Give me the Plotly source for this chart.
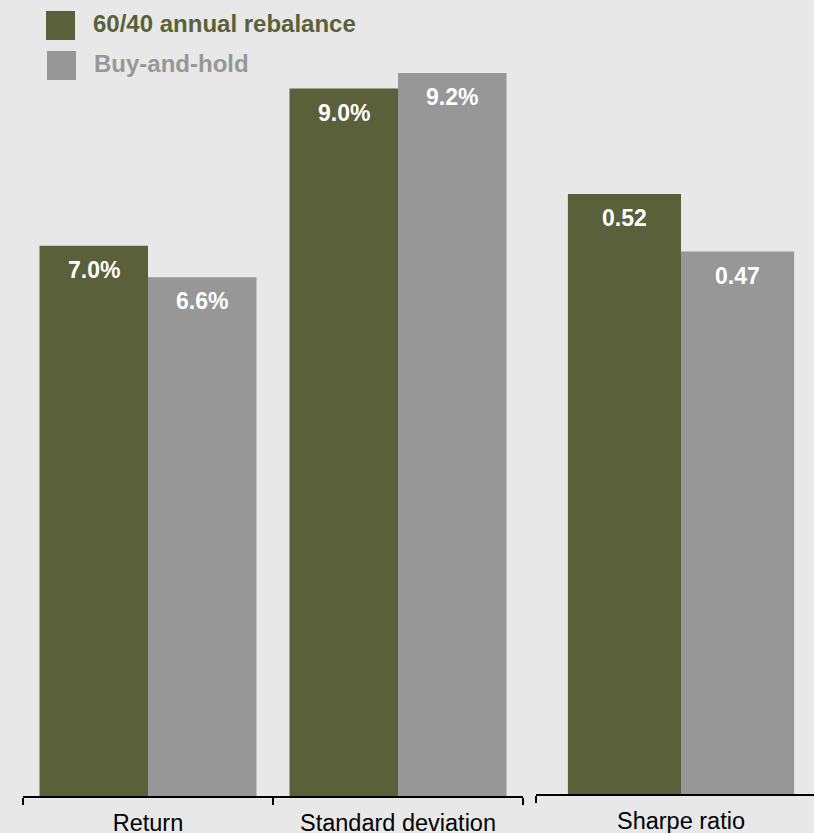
import plotly.graph_objects as go

# ---- data ----
categories = ["Return", "Standard deviation"]
rebalance_pct = [7.0, 9.0]
buyhold_pct = [6.6, 9.2]
ratio_category = ["Sharpe ratio"]
rebalance_sharpe = [0.52]
buyhold_sharpe = [0.47]
series_names = ["60/40 annual rebalance", "Buy-and-hold"]

# ---- style ----
OLIVE = "#5a603a"
GRAY = "#979797"
BG = "#e8e8e8"
W, H = 814, 833
FONT = "Liberation Sans, Arial, sans-serif"
WL = 0.434   # bar width (left panel units)
WR = 0.39    # bar width (right panel units)

fig = go.Figure()

fig.add_bar(x=categories, y=rebalance_pct, width=[WL] * len(categories), offset=-WL,
            marker=dict(color=OLIVE, line=dict(width=0)), xaxis="x", yaxis="y",
            name=series_names[0], showlegend=False)
fig.add_bar(x=categories, y=buyhold_pct, width=[WL] * len(categories), offset=0,
            marker=dict(color=GRAY, line=dict(width=0)), xaxis="x", yaxis="y",
            name=series_names[1], showlegend=False)
fig.add_bar(x=ratio_category, y=rebalance_sharpe, width=[WR], offset=-WR,
            marker=dict(color=OLIVE, line=dict(width=0)), xaxis="x2", yaxis="y2",
            name=series_names[0], showlegend=False)
fig.add_bar(x=ratio_category, y=buyhold_sharpe, width=[WR], offset=0,
            marker=dict(color=GRAY, line=dict(width=0)), xaxis="x2", yaxis="y2",
            name=series_names[1], showlegend=False)

annotations = []
LBL = dict(family=FONT, size=23, color="white")
YS = -9
for i, v in enumerate(rebalance_pct):
    annotations.append(dict(x=i - WL / 2, y=v, xref="x", yref="y", text=f"<b>{v:.1f}%</b>",
                            showarrow=False, yanchor="top", yshift=YS, font=LBL))
for i, v in enumerate(buyhold_pct):
    annotations.append(dict(x=i + WL / 2, y=v, xref="x", yref="y", text=f"<b>{v:.1f}%</b>",
                            showarrow=False, yanchor="top", yshift=YS, font=LBL))
for i, v in enumerate(rebalance_sharpe):
    annotations.append(dict(x=i - WR / 2, y=v, xref="x2", yref="y2", text=f"<b>{v:.2f}</b>",
                            showarrow=False, yanchor="top", yshift=YS, font=LBL))
for i, v in enumerate(buyhold_sharpe):
    annotations.append(dict(x=i + WR / 2, y=v, xref="x2", yref="y2", text=f"<b>{v:.2f}</b>",
                            showarrow=False, yanchor="top", yshift=YS, font=LBL))

# legend (custom, large swatches)
def px(xp):
    return xp / W

def py(yp):
    return 1 - yp / H

shapes = [
    dict(type="rect", xref="paper", yref="paper", x0=px(46), x1=px(75), y0=py(40), y1=py(11),
         fillcolor=OLIVE, line=dict(width=0)),
    dict(type="rect", xref="paper", yref="paper", x0=px(47), x1=px(76), y0=py(80), y1=py(51),
         fillcolor=GRAY, line=dict(width=0)),
]
annotations.append(dict(x=px(91), y=py(24), xref="paper", yref="paper", xanchor="left",
                        yanchor="middle", showarrow=False, text=f"<b>{series_names[0]}</b>",
                        font=dict(family=FONT, size=24, color=OLIVE)))
annotations.append(dict(x=px(92), y=py(64), xref="paper", yref="paper", xanchor="left",
                        yanchor="middle", showarrow=False, text=f"<b>{series_names[1]}</b>",
                        font=dict(family=FONT, size=24, color=GRAY)))

AX = dict(type="category", tickson="boundaries", ticks="outside", ticklen=7, tickwidth=2,
          tickcolor="black", showline=True, linecolor="black", linewidth=2, showgrid=False,
          zeroline=False, tickfont=dict(family=FONT, size=23.5, color="black"),
          ticklabelstandoff=5, fixedrange=True)
YAX = dict(visible=False, showgrid=False, zeroline=False, fixedrange=True)

fig.update_layout(
    width=W, height=H,
    margin=dict(l=0, r=0, t=0, b=0, autoexpand=False),
    paper_bgcolor=BG, plot_bgcolor=BG,
    barmode="group",
    xaxis=dict(AX, domain=[23 / W, 523 / W], range=[-0.5, 1.5], anchor="y"),
    yaxis=dict(YAX, domain=[(H - 796) / H, 1], range=[0, 796 / 78.6], anchor="x"),
    xaxis2=dict(AX, domain=[536 / W, 1], range=[-0.5, 0.4586], anchor="y2"),
    yaxis2=dict(YAX, domain=[(H - 794) / H, 1], range=[0, 794 / 1154], anchor="x2"),
    annotations=annotations,
    shapes=shapes,
    showlegend=False,
)

fig.write_html(
    "out.html",
    config={"displayModeBar": False},
    post_script="document.body.style.margin='0';document.body.style.background='#e8e8e8';"
                "document.documentElement.style.overflow='hidden';",
)
